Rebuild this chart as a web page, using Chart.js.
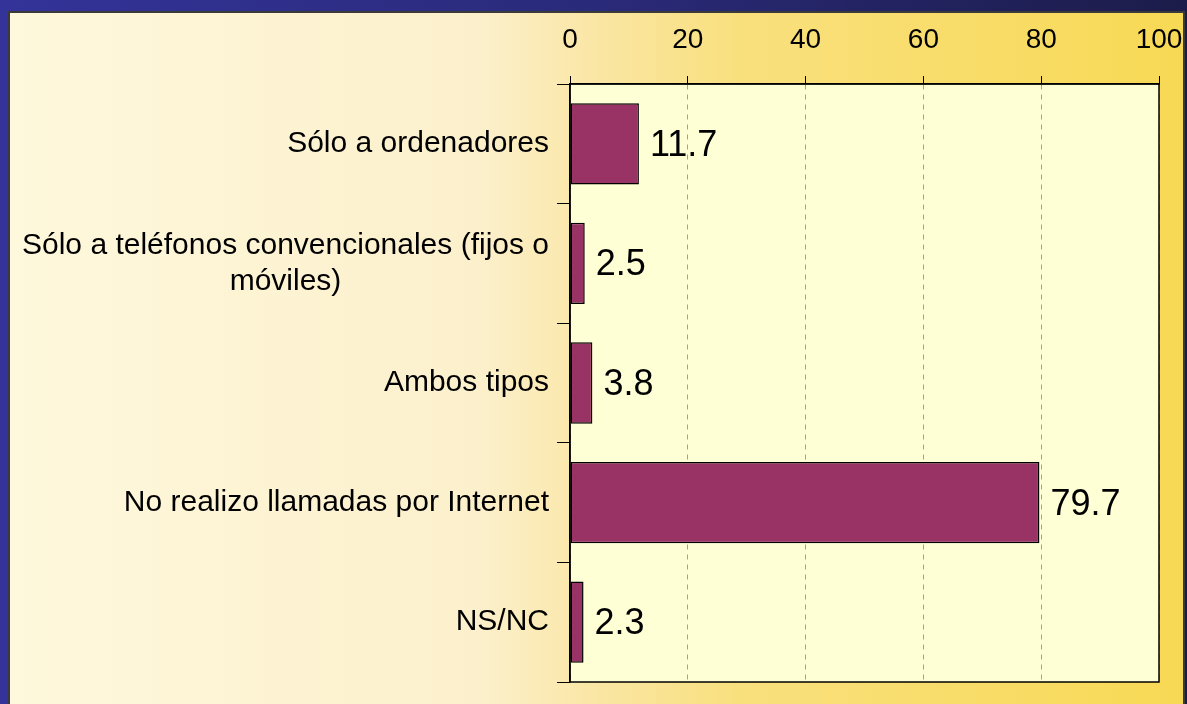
<!DOCTYPE html>
<html>
<head>
<meta charset="utf-8">
<script src="https://cdn.jsdelivr.net/npm/chart.js"></script>
<style>
  html, body { margin: 0; padding: 0; background: #333399; }
  canvas { display: block; }
</style>
</head>
<body>
<canvas id="chart" width="1187" height="704"></canvas>
<script>
const categories = [
  'Sólo a ordenadores',
  ['Sólo a teléfonos convencionales (fijos o', 'móviles)'],
  'Ambos tipos',
  'No realizo llamadas por Internet',
  'NS/NC'
];
const values = [11.7, 2.5, 3.8, 79.7, 2.3];
const xMin = 0, xMax = 100, xStep = 20;

const FONT = 'Arial, "Liberation Sans", sans-serif';

// background: blue frame + cream-to-gold panel + pale plot area
const backdrop = {
  id: 'backdrop',
  beforeDraw(chart) {
    const c = chart.ctx, w = chart.width, h = chart.height;
    c.save();
    let g = c.createLinearGradient(0, 0, w, 0);
    g.addColorStop(0, '#333399');
    g.addColorStop(0.5, '#2a2a7a');
    g.addColorStop(1, '#1c1c4a');
    c.fillStyle = g;
    c.fillRect(0, 0, w, h);

    g = c.createLinearGradient(9, 0, 1184, 0);
    g.addColorStop(0, '#FEF8DC');
    g.addColorStop(0.4, '#FCF0CC');
    g.addColorStop(0.5, '#FAE6A4');
    g.addColorStop(0.62, '#F9E07E');
    g.addColorStop(1, '#F8D955');
    c.fillStyle = g;
    c.fillRect(9, 12, 1175, h - 12);
    c.strokeStyle = '#3a3a3a';
    c.lineWidth = 2;
    c.beginPath();
    c.moveTo(9, h); c.lineTo(9, 12); c.lineTo(1184, 12); c.lineTo(1184, h);
    c.stroke();

    const a = chart.chartArea;
    c.fillStyle = '#FFFFD6';
    c.fillRect(a.left, a.top, a.right - a.left, a.bottom - a.top);
    c.restore();
  },
  afterDatasetsDraw(chart) {
    const c = chart.ctx, a = chart.chartArea;
    c.save();
    c.strokeStyle = '#000';
    c.lineWidth = 1.5;
    c.strokeRect(a.left, a.top, a.right - a.left, a.bottom - a.top);
    // value labels
    c.fillStyle = '#000';
    c.font = '36px ' + FONT;
    c.textAlign = 'left';
    c.textBaseline = 'middle';
    chart.getDatasetMeta(0).data.forEach((bar, i) => {
      c.fillText(String(values[i]), bar.x + 11, bar.y + 2);
    });

    // category labels: block right-aligned, lines centred inside the block
    const ys = chart.scales.y;
    c.font = '30px ' + FONT;
    c.textAlign = 'center';
    const lh = 36, right = a.left - 21;
    categories.forEach((cat, i) => {
      const lines = Array.isArray(cat) ? cat : [cat];
      const bw = Math.max(...lines.map(l => c.measureText(l).width));
      const cy = ys.getPixelForValue(i);
      lines.forEach((l, j) => {
        c.fillText(l, right - bw / 2, cy + (j - (lines.length - 1) / 2) * lh);
      });
    });
    c.restore();
  }
};

new Chart(document.getElementById('chart'), {
  type: 'bar',
  data: {
    labels: categories,
    datasets: [{
      data: values,
      backgroundColor: '#993366',
      borderColor: '#000',
      borderWidth: 1.5,
      borderSkipped: false,
      categoryPercentage: 1,
      barPercentage: 0.68
    }]
  },
  options: {
    indexAxis: 'y',
    responsive: false,
    animation: false,
    devicePixelRatio: 1,
    layout: { padding: { left: 0, top: 0, right: 28, bottom: 22 } },
    plugins: { legend: { display: false }, tooltip: { enabled: false } },
    scales: {
      x: {
        position: 'top',
        min: xMin,
        max: xMax,
        afterFit(scale) {
          scale.height = 84;
          scale.paddingLeft = 0;
          scale.paddingRight = 0;
        },
        ticks: {
          stepSize: xStep,
          color: '#000',
          font: { family: FONT, size: 28 },
          padding: 19,
          maxRotation: 0
        },
        grid: {
          color: '#A0A0A0',
          tickColor: '#000',
          tickLength: 8,
          lineWidth: 1,
          drawOnChartArea: true
        },
        border: { display: true, color: '#000', width: 1.5, dash: [5, 5] }
      },
      y: {
        afterFit(scale) {
          scale.width = 570;
          scale.paddingTop = 0;
          scale.paddingBottom = 0;
        },
        ticks: {
          display: false
        },
        grid: {
          drawOnChartArea: false,
          color: '#000',
          tickLength: 13,
          offset: true
        },
        border: { display: true, color: '#000', width: 1.5 }
      }
    }
  },
  plugins: [backdrop]
});
</script>
</body>
</html>
